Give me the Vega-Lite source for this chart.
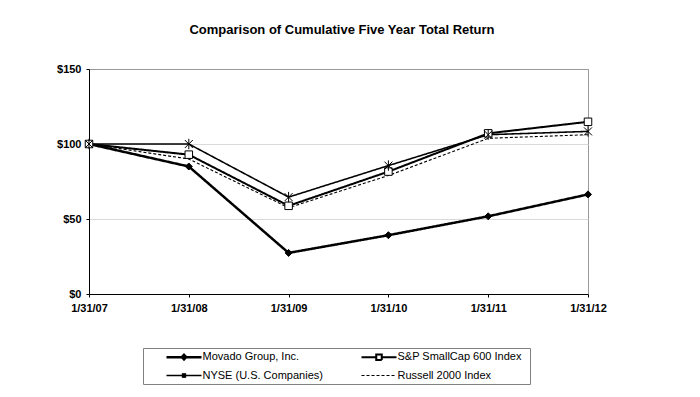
{
  "$schema": "https://vega.github.io/schema/vega-lite/v6.json",
  "autosize": {"type": "none"},
  "width": 499,
  "height": 225,
  "padding": {"left": 89, "top": 69, "right": 112, "bottom": 103},
  "background": "white",
  "title": {"text": "Comparison of Cumulative Five Year Total Return", "fontSize": 13, "fontWeight": "bold", "font": "Liberation Sans", "anchor": "middle", "offset": 26, "dx": 3.5, "color": "black"},
  "config": {
    "font": "Liberation Sans",
    "view": {"stroke": "#999999", "strokeWidth": 1},
    "axis": {"labelFont": "Liberation Sans", "labelFontSize": 11, "labelFontWeight": "bold", "labelColor": "black", "domainColor": "black", "tickColor": "black", "tickSize": 3, "title": null}
  },
  "data": {"values": [
    {"date": "1/31/07", "series": "Movado Group, Inc.", "value": 100},
    {"date": "1/31/08", "series": "Movado Group, Inc.", "value": 85.0},
    {"date": "1/31/09", "series": "Movado Group, Inc.", "value": 27.4},
    {"date": "1/31/10", "series": "Movado Group, Inc.", "value": 39.2},
    {"date": "1/31/11", "series": "Movado Group, Inc.", "value": 51.8},
    {"date": "1/31/12", "series": "Movado Group, Inc.", "value": 66.4},
    {"date": "1/31/07", "series": "S&P SmallCap 600 Index", "value": 100},
    {"date": "1/31/08", "series": "S&P SmallCap 600 Index", "value": 92.9},
    {"date": "1/31/09", "series": "S&P SmallCap 600 Index", "value": 58.8},
    {"date": "1/31/10", "series": "S&P SmallCap 600 Index", "value": 81.6},
    {"date": "1/31/11", "series": "S&P SmallCap 600 Index", "value": 107.1},
    {"date": "1/31/12", "series": "S&P SmallCap 600 Index", "value": 114.8},
    {"date": "1/31/07", "series": "NYSE (U.S. Companies)", "value": 100},
    {"date": "1/31/08", "series": "NYSE (U.S. Companies)", "value": 100.0},
    {"date": "1/31/09", "series": "NYSE (U.S. Companies)", "value": 64.6},
    {"date": "1/31/10", "series": "NYSE (U.S. Companies)", "value": 85.6},
    {"date": "1/31/11", "series": "NYSE (U.S. Companies)", "value": 106.2},
    {"date": "1/31/12", "series": "NYSE (U.S. Companies)", "value": 108.4},
    {"date": "1/31/07", "series": "Russell 2000 Index", "value": 100},
    {"date": "1/31/08", "series": "Russell 2000 Index", "value": 90.0},
    {"date": "1/31/09", "series": "Russell 2000 Index", "value": 57.5},
    {"date": "1/31/10", "series": "Russell 2000 Index", "value": 79.0},
    {"date": "1/31/11", "series": "Russell 2000 Index", "value": 103.8},
    {"date": "1/31/12", "series": "Russell 2000 Index", "value": 106.2}
  ]},
  "encoding": {
    "x": {"field": "date", "type": "ordinal", "sort": null, "scale": {"type": "point", "padding": 0},
      "axis": {"labelAngle": 0, "labelPadding": 5, "grid": false}},
    "y": {"field": "value", "type": "quantitative", "scale": {"domain": [0, 150], "nice": false},
      "axis": {"values": [0, 50, 100, 150], "labelExpr": "'$' + datum.value", "labelPadding": 5, "grid": true,
        "gridColor": {"condition": {"test": "datum.value === 150", "value": "#999999"}, "value": "#d9d9d9"}}}
  },
  "layer": [
    {
      "mark": {"type": "line", "color": "black"},
      "encoding": {
        "detail": {"field": "series"},
        "strokeWidth": {"field": "series", "type": "nominal", "legend": null,
          "scale": {"domain": ["Movado Group, Inc.", "S&P SmallCap 600 Index", "NYSE (U.S. Companies)", "Russell 2000 Index"], "range": [2.5, 1.1, 1.1, 1.1]}},
        "strokeDash": {"field": "series", "type": "nominal",
          "scale": {"domain": ["Movado Group, Inc.", "S&P SmallCap 600 Index", "NYSE (U.S. Companies)", "Russell 2000 Index"], "range": [[1, 0], [1, 0], [1, 0], [3, 2]]},
          "legend": {
            "title": null, "orient": "none", "legendX": 54, "legendY": 279, "columns": 2, "direction": "horizontal",
            "padding": 2.5, "rowPadding": 5, "columnPadding": 17,
            "strokeColor": "#808080", "fillColor": "white",
            "symbolSize": 100, "labelOffset": 44,
            "symbolType": {"expr": "datum.value === 'Movado Group, Inc.' ? 'M2.9,0L9.9,0M6.4,-0.45L6.85,0L6.4,0.45L5.95,0Z' : datum.value === 'S&P SmallCap 600 Index' ? 'M2.9,0L5.85,0M6.95,0L9.9,0M5.85,-0.55L6.95,-0.55L6.95,0.55L5.85,0.55ZM35.1,0' : datum.value === 'NYSE (U.S. Companies)' ? 'M2.9,0L9.9,0M6.0,-0.4L6.8,0.4M6.0,0.4L6.8,-0.4M6.4,-0.5L6.4,0.5' : 'M2.9,0L9.9,0M35.1,0'"},
            "labelFont": "Liberation Sans", "labelFontSize": 11, "labelColor": "black",
            "encode": {
              "symbols": {
                "strokeWidth": {"value": {"expr": "datum.value === 'Movado Group, Inc.' ? 2.5 : 1.1"}},
                "strokeDash": {"value": {"expr": "datum.value === 'Russell 2000 Index' ? [3, 2] : [1, 0]"}},
                "fill": {"value": {"expr": "datum.value === 'Movado Group, Inc.' ? 'black' : 'white'"}},
                "stroke": {"value": "black"},
                "opacity": {"value": 1}
              }
            }
          }}
      }
    },
    {
      "transform": [{"filter": "datum.series !== 'Russell 2000 Index'"}],
      "mark": {"type": "point", "filled": true, "stroke": "black", "strokeWidth": 1, "opacity": 1},
      "encoding": {
        "shape": {"field": "series", "type": "nominal", "legend": null,
          "scale": {"domain": ["Movado Group, Inc.", "S&P SmallCap 600 Index", "NYSE (U.S. Companies)"], "range": ["diamond", "square", "M-1,-1L1,1M-1,1L1,-1M0,-1.3L0,1.3"]}},
        "fill": {"field": "series", "type": "nominal", "legend": null,
          "scale": {"domain": ["Movado Group, Inc.", "S&P SmallCap 600 Index", "NYSE (U.S. Companies)"], "range": ["black", "white", "transparent"]}},
        "size": {"field": "series", "type": "nominal", "legend": null,
          "scale": {"domain": ["Movado Group, Inc.", "S&P SmallCap 600 Index", "NYSE (U.S. Companies)"], "range": [49, 64, 36]}}
      }
    }
  ]
}
